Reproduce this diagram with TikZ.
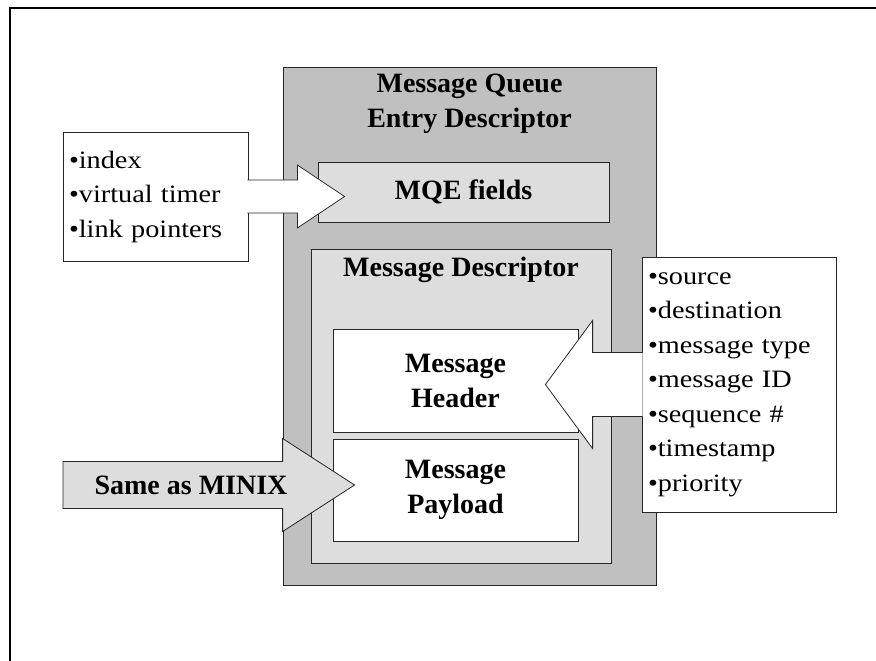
\documentclass[tikz,border=0pt]{standalone}
\usepackage{fontspec}
\setmainfont{Liberation Serif}
\newfontfamily\listfont[FakeStretch=1.13]{Liberation Serif}
\usetikzlibrary{calc}
\definecolor{mqegray}{RGB}{192,192,192}
\definecolor{mdgray}{RGB}{221,221,221}
\tikzset{
  box/.style={draw=black!85, line width=0.8pt, inner sep=0pt},
  titletext/.style={font=\fontsize{28}{35}\selectfont\bfseries, align=center},
  listtext/.style={box, fill=white, font=\listfont\fontsize{25}{34.5}\selectfont, align=left, inner xsep=6pt},
  blockarrow/.style={draw=black!85, line width=0.8pt, line join=miter}
}

\begin{document}
\begin{tikzpicture}[x=1pt,y=-1pt]
\useasboundingbox (0,0) rectangle (876,661);
\draw[line width=2pt] (10,661) -- (10,8) -- (876,8);

\node[box, fill=mqegray, minimum width=373pt, minimum height=518pt] (entry) at (469.5,326) {};
\node[titletext] (entrytitle) at (469.5,104) {Message Queue\\Entry Descriptor};
\node[box, fill=mdgray, minimum width=291pt, minimum height=60pt, titletext] (fields) at (463.5,192) {MQE fields};

\node[box, fill=mdgray, minimum width=300pt, minimum height=314pt] (descr) at (461,406) {};
\node[titletext] (descrtitle) at (461,270) {Message Descriptor};
\node[box, fill=white, minimum width=245pt, minimum height=103pt, titletext] (header) at (455.5,380.5) {Message\\Header};
\node[box, fill=white, minimum width=245pt, minimum height=102pt, titletext] (payload) at (455.5,490) {Message\\Payload};

\node[listtext, minimum height=129pt, text width=173pt] (mqelist) at (155.5,196.5) {•index\\•virtual timer\\•link pointers};
\node[listtext, minimum height=255pt, text width=182pt] (hdrlist) at (739,384.5) {•source\\•destination\\•message type\\•message ID\\•sequence \#\\•timestamp\\•priority};

% arrow into the MQE fields
\coordinate (idxtip) at ($(mqelist.east -| fields.west)+(27,0)$);
\filldraw[blockarrow, fill=white] ($(mqelist.east)+(-1,-16.5)$) -- ($(mqelist.east)+(49,-16.5)$) -- ($(mqelist.east)+(49,-31.5)$) -- (idxtip) -- ($(mqelist.east)+(49,31.5)$) -- ($(mqelist.east)+(49,16.5)$) -- ($(mqelist.east)+(-1,16.5)$);

% arrow into the header
\coordinate (hdrtip) at ($(hdrlist.west -| header.east)+(-33,0)$);
\filldraw[blockarrow, fill=white] ($(hdrlist.west)+(1,-32)$) -- ($(hdrlist.west)+(-49,-32)$) -- ($(hdrlist.west)+(-49,-64)$) -- (hdrtip) -- ($(hdrlist.west)+(-49,64)$) -- ($(hdrlist.west)+(-49,32)$) -- ($(hdrlist.west)+(1,32)$);

% arrow into the payload
\coordinate (minixtail) at (63,485);
\coordinate (minixtip) at ($(payload.west)+(22,-5)$);
\filldraw[blockarrow, fill=mdgray] ($(minixtail)+(0,-23.5)$) -- ($(minixtip)+(-72,-23.5)$) -- ($(minixtip)+(-72,-46.5)$) -- (minixtip) -- ($(minixtip)+(-72,46.5)$) -- ($(minixtip)+(-72,23.5)$) -- ($(minixtail)+(0,23.5)$) -- cycle;
\node[titletext] (minixlabel) at (191,485) {Same as MINIX};

\end{tikzpicture}
\end{document}
